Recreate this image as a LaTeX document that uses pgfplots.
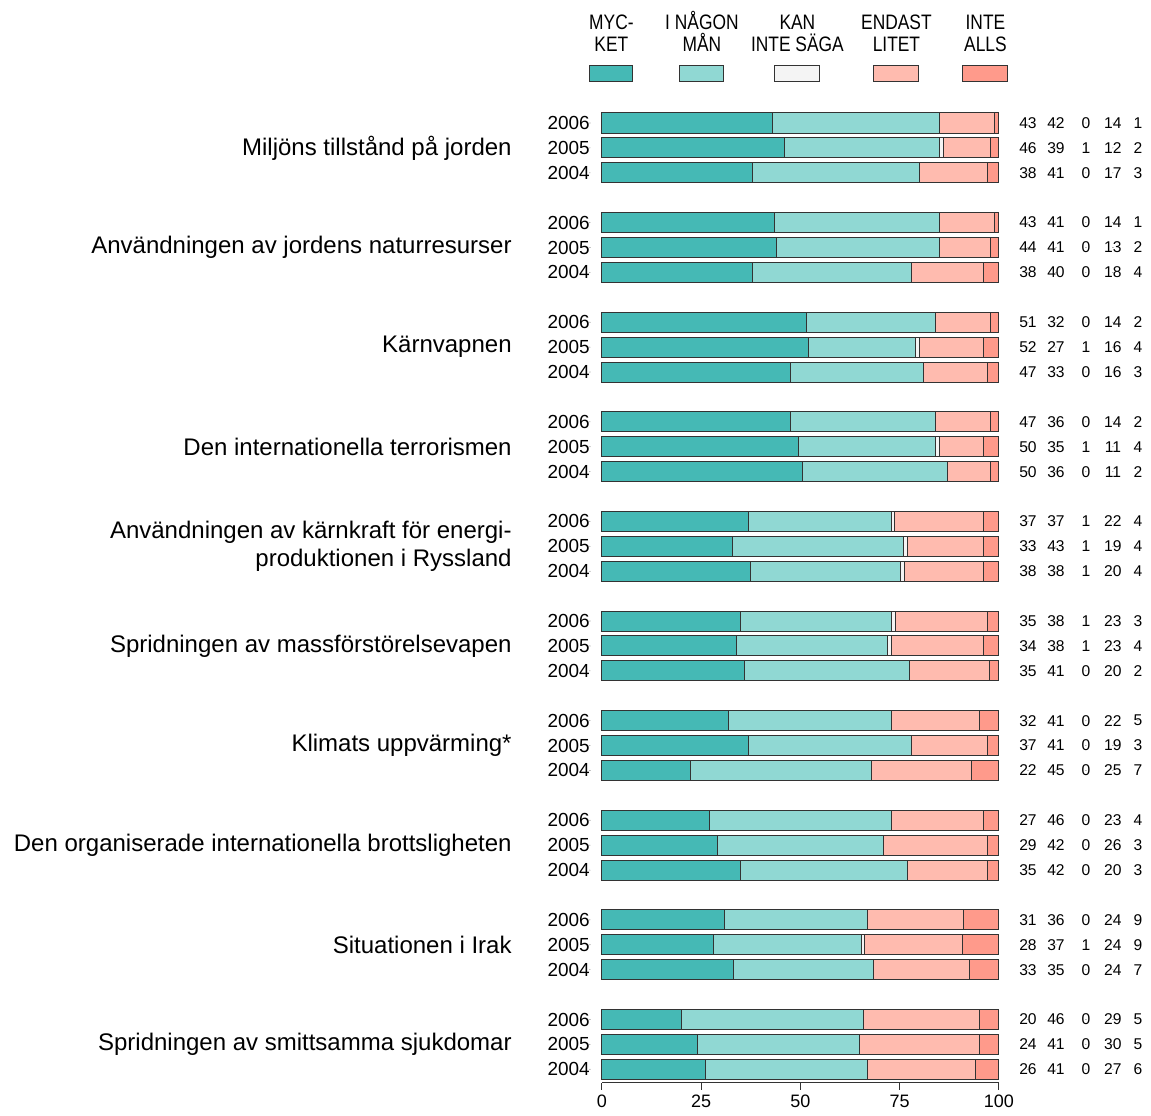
\documentclass[border=0pt]{standalone}
\usepackage{pgfplots}
\usepackage{pgfplotstable}
\usepackage{fontspec}
\setmainfont{Liberation Sans}
\newfontfamily\narrowfont[FakeStretch=0.83]{Liberation Sans}
\pgfplotsset{compat=1.18}
\definecolor{c1}{HTML}{45B9B5}
\definecolor{c2}{HTML}{90D8D3}
\definecolor{c3}{HTML}{F4F4F4}
\definecolor{c4}{HTML}{FFBBAF}
\definecolor{c5}{HTML}{FF9A8B}
\definecolor{edge}{HTML}{333333}
\pgfplotstableread{
pos a b c d e
0 43 42 0 14 1
-1 46 39 1 12 2
-2 38 42 0 17 3
-4 43.5 41.5 0 14 1
-5 44 41 0 13 2
-6 38 40 0 18 4
-8 51.5 32.5 0 14 2
-9 52 27 1 16 4
-10 47.5 33.5 0 16 3
-12 47.5 36.5 0 14 2
-13 49.5 34.5 1 11 4
-14 50.5 36.5 0 11 2
-16 36.8 36.2 0.8 22.2 4
-17 33 43 1 19 4
-18 37.5 37.8 0.8 19.9 4
-20 35 38 1 23 3
-21 34 38 1 23 4
-22 36 41.6 0 20.1 2.3
-24 32 41 0 22 5
-25 37 41 0 19 3
-26 22.2 45.6 0 25.2 7
-28 27 46 0 23 4
-29 29 42 0 26 3
-30 35 42 0 20 3
-32 31 36 0 24 9
-33 28.2 37.3 0.7 24.5 9.3
-34 33.2 35.3 0 24.2 7.3
-36 20 46 0 29 5
-37 24 41 0 30 5
-38 26 41 0 27 6
}\bars
\pgfplotstableread{
pos year la lb lc ld le
0 2006 43 42 0 14 1
-1 2005 46 39 1 12 2
-2 2004 38 41 0 17 3
-4 2006 43 41 0 14 1
-5 2005 44 41 0 13 2
-6 2004 38 40 0 18 4
-8 2006 51 32 0 14 2
-9 2005 52 27 1 16 4
-10 2004 47 33 0 16 3
-12 2006 47 36 0 14 2
-13 2005 50 35 1 11 4
-14 2004 50 36 0 11 2
-16 2006 37 37 1 22 4
-17 2005 33 43 1 19 4
-18 2004 38 38 1 20 4
-20 2006 35 38 1 23 3
-21 2005 34 38 1 23 4
-22 2004 35 41 0 20 2
-24 2006 32 41 0 22 5
-25 2005 37 41 0 19 3
-26 2004 22 45 0 25 7
-28 2006 27 46 0 23 4
-29 2005 29 42 0 26 3
-30 2004 35 42 0 20 3
-32 2006 31 36 0 24 9
-33 2005 28 37 1 24 9
-34 2004 33 35 0 24 7
-36 2006 20 46 0 29 5
-37 2005 24 41 0 30 5
-38 2004 26 41 0 27 6
}\labels
\newcommand{\catfont}{\fontsize{18bp}{21bp}\selectfont}
\newcommand{\legfont}{\narrowfont\fontsize{15.7bp}{16.3bp}\selectfont}
\pgfplotsset{
  common/.style={
    x=2.9775bp, y=18.675bp,
    xmin=0, xmax=100, ymin=-38.55, ymax=0.6,
    enlargelimits=false, clip=false,
  },
  lab/.style={only marks, mark=*, mark size=0.01pt, mark options={draw=none,fill=none},
    nodes near coords, point meta=explicit symbolic,
    every node near coord/.append style={anchor=center, font=\fontsize{11.7bp}{14bp}\selectfont, inner sep=0pt}},
}
\tikzset{leg/.style={anchor=base, font=\legfont, inner sep=0pt}}
\begin{document}
\begin{tikzpicture}
\begin{axis}[common,
  xbar stacked, bar width=15bp,
  axis y line=none, axis x line=bottom,
  axis line style={-, edge, line width=0.75bp},
  xtick={0,25,50,75,100}, ytick=\empty,
  tick align=outside, major tick length=5.25bp,
  tick style={edge, line width=0.75bp},
  xticklabel style={font=\fontsize{13.5bp}{16bp}\selectfont},
  /pgf/number format/assume math mode=true,
  every axis plot/.append style={draw=edge, line width=0.75bp},
]
\addplot[fill=c1] table[x=a, y=pos] {\bars};
\addplot[fill=c2] table[x=b, y=pos] {\bars};
\addplot[fill=c3] table[x=c, y=pos] {\bars};
\addplot[fill=c4] table[x=d, y=pos] {\bars};
\addplot[fill=c5] table[x=e, y=pos] {\bars};
% overall frame of the picture (invisible)
\path (axis cs:-151.6,4.94) rectangle (axis cs:138.3,-39.84);
% legend
\draw[fill=c1, draw=edge, line width=0.75bp] (axis cs:-3.02,2.29) rectangle (axis cs:7.81,1.65);
\draw[fill=c2, draw=edge, line width=0.75bp] (axis cs:19.65,2.29) rectangle (axis cs:30.73,1.65);
\draw[fill=c3, draw=edge, line width=0.75bp] (axis cs:43.58,2.29) rectangle (axis cs:54.91,1.65);
\draw[fill=c4, draw=edge, line width=0.75bp] (axis cs:68.51,2.29) rectangle (axis cs:79.85,1.65);
\draw[fill=c5, draw=edge, line width=0.75bp] (axis cs:90.93,2.29) rectangle (axis cs:102.27,1.65);
\node[leg] at (axis cs:2.39,3.735) {MYC-};
\node[leg] at (axis cs:2.39,2.863) {KET};
\node[leg] at (axis cs:25.19,3.735) {I NÅGON};
\node[leg] at (axis cs:25.19,2.863) {MÅN};
\node[leg] at (axis cs:49.24,3.735) {KAN};
\node[leg] at (axis cs:49.24,2.863) {INTE SÄGA};
\node[leg] at (axis cs:74.18,3.735) {ENDAST};
\node[leg] at (axis cs:74.18,2.863) {LITET};
\node[leg] at (axis cs:96.6,3.735) {INTE};
\node[leg] at (axis cs:96.6,2.863) {ALLS};
% category labels
\node[anchor=east, align=right, font=\catfont, inner sep=0pt] at (axis cs:-22.67,-1) {Miljöns tillstånd på jorden};
\node[anchor=east, align=right, font=\catfont, inner sep=0pt] at (axis cs:-22.67,-5) {Användningen av jordens naturresurser};
\node[anchor=east, align=right, font=\catfont, inner sep=0pt] at (axis cs:-22.67,-9) {Kärnvapnen};
\node[anchor=east, align=right, font=\catfont, inner sep=0pt] at (axis cs:-22.67,-13) {Den internationella terrorismen};
\node[anchor=east, align=right, font=\catfont, inner sep=0pt] at (axis cs:-22.67,-17) {Användningen av kärnkraft för energi-\\produktionen i Ryssland};
\node[anchor=east, align=right, font=\catfont, inner sep=0pt] at (axis cs:-22.67,-21) {Spridningen av massförstörelsevapen};
\node[anchor=east, align=right, font=\catfont, inner sep=0pt] at (axis cs:-22.67,-25) {Klimats uppvärming*};
\node[anchor=east, align=right, font=\catfont, inner sep=0pt] at (axis cs:-22.67,-29) {Den organiserade internationella brottsligheten};
\node[anchor=east, align=right, font=\catfont, inner sep=0pt] at (axis cs:-22.67,-33) {Situationen i Irak};
\node[anchor=east, align=right, font=\catfont, inner sep=0pt] at (axis cs:-22.67,-37) {Spridningen av smittsamma sjukdomar};
\end{axis}
\begin{axis}[common, hide axis]
\addplot[lab, every node near coord/.append style={anchor=east, font=\fontsize{14.2bp}{16bp}\selectfont}] table[x expr=-3.02, y=pos, meta=year] {\labels};
\addplot[lab] table[x expr=107.3, y=pos, meta=la] {\labels};
\addplot[lab] table[x expr=114.36, y=pos, meta=lb] {\labels};
\addplot[lab] table[x expr=121.9, y=pos, meta=lc] {\labels};
\addplot[lab] table[x expr=128.7, y=pos, meta=ld] {\labels};
\addplot[lab] table[x expr=135.0, y=pos, meta=le] {\labels};
\end{axis}
\end{tikzpicture}
\end{document}
